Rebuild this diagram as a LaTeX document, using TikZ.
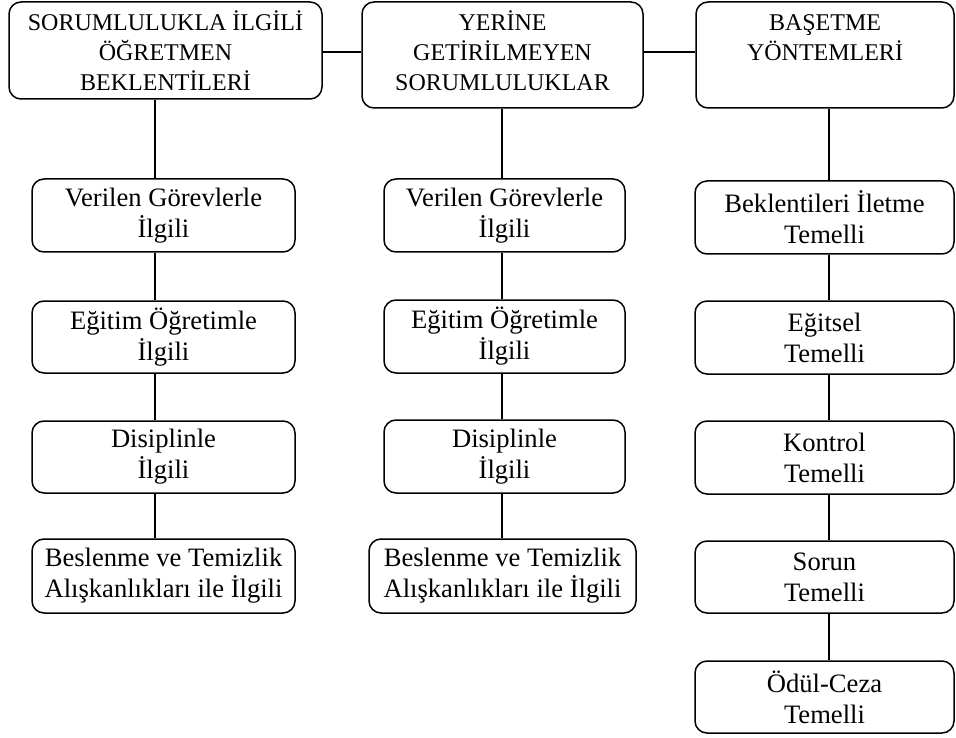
\documentclass[tikz,border=0pt]{standalone}
\usepackage{fontspec}
\setmainfont{Liberation Serif}
\begin{document}
\begin{tikzpicture}[x=1pt,y=-1pt,
  box/.style={draw, rounded corners=12pt, line width=1.5pt, inner sep=0pt},
  lbl/.style={font=\fontsize{26.6}{31}\selectfont, align=center},
  tlbl/.style={font=\fontsize{24}{30}\selectfont, align=center, anchor=north, inner sep=0pt},
  conn/.style={line width=1.5pt}]
\useasboundingbox (0,0) rectangle (956,738);
% top boxes
\node[box, minimum width=313pt, minimum height=97pt] (T1) at (165.5,50.5) {};
\node[box, minimum width=281pt, minimum height=106pt] (T2) at (502.5,55) {};
\node[box, minimum width=258pt, minimum height=106pt] (T3) at (825,55) {};
\node[tlbl] (T1t) at (165.5,8) {\rule{0pt}{22pt}SORUMLULUKLA İLGİLİ\\ÖĞRETMEN\\BEKLENTİLERİ};
\node[tlbl] (T2t) at (502.5,8) {\rule{0pt}{22pt}YERİNE\\GETİRİLMEYEN\\SORUMLULUKLAR};
\node[tlbl] (T3t) at (825,8) {\rule{0pt}{22pt}BAŞETME\\YÖNTEMLERİ};
% column 1
\node[box, lbl, minimum width=263pt, minimum height=73pt] (a1) at (163.5,215.5) {Verilen Görevlerle\\İlgili};
\node[box, lbl, minimum width=263pt, minimum height=72pt] (a2) at (163.5,337) {Eğitim Öğretimle\\İlgili};
\node[box, lbl, minimum width=263pt, minimum height=72pt] (a3) at (163.5,457) {Disiplinle\\İlgili};
\node[box, lbl, minimum width=263pt, minimum height=74pt] (a4) at (163.5,576) {Beslenme ve Temizlik\\Alışkanlıkları ile İlgili};
% column 2
\node[box, lbl, minimum width=241pt, minimum height=73pt] (b1) at (504.5,215.5) {Verilen Görevlerle\\İlgili};
\node[box, lbl, minimum width=241pt, minimum height=73pt] (b2) at (504.5,336.5) {Eğitim Öğretimle\\İlgili};
\node[box, lbl, minimum width=241pt, minimum height=73pt] (b3) at (504.5,456.5) {Disiplinle\\İlgili};
\node[box, lbl, minimum width=267pt, minimum height=74pt] (b4) at (502.5,576) {Beslenme ve Temizlik\\Alışkanlıkları ile İlgili};
% column 3
\node[box, lbl, minimum width=259pt, minimum height=73pt] (c1) at (824.5,217.5) {Beklentileri İletme\\Temelli};
\node[box, lbl, minimum width=259pt, minimum height=73pt] (c2) at (824.5,337.5) {Eğitsel\\Temelli};
\node[box, lbl, minimum width=259pt, minimum height=73pt] (c3) at (824.5,457.5) {Kontrol\\Temelli};
\node[box, lbl, minimum width=259pt, minimum height=72pt] (c4) at (824.5,577) {Sorun\\Temelli};
\node[box, lbl, minimum width=259pt, minimum height=72pt] (c5) at (824.5,697) {Ödül-Ceza\\Temelli};
% horizontal connectors
\draw[conn] (T1.east |- 0,52) -- (T2.west |- 0,52);
\draw[conn] (T2.east |- 0,52) -- (T3.west |- 0,52);
% vertical connectors
\draw[conn] (T1.south -| 155,0) -- (a1.north -| 155,0);
\draw[conn] (a1.south -| 155,0) -- (a2.north -| 155,0);
\draw[conn] (a2.south -| 155,0) -- (a3.north -| 155,0);
\draw[conn] (a3.south -| 155,0) -- (a4.north -| 155,0);
\draw[conn] (T2.south -| 502,0) -- (b1.north -| 502,0);
\draw[conn] (b1.south -| 502,0) -- (b2.north -| 502,0);
\draw[conn] (b2.south -| 502,0) -- (b3.north -| 502,0);
\draw[conn] (b3.south -| 502,0) -- (b4.north -| 502,0);
\draw[conn] (T3.south -| 829,0) -- (c1.north -| 829,0);
\draw[conn] (c1.south -| 829,0) -- (c2.north -| 829,0);
\draw[conn] (c2.south -| 829,0) -- (c3.north -| 829,0);
\draw[conn] (c3.south -| 829,0) -- (c4.north -| 829,0);
\draw[conn] (c4.south -| 829,0) -- (c5.north -| 829,0);
\end{tikzpicture}
\end{document}
